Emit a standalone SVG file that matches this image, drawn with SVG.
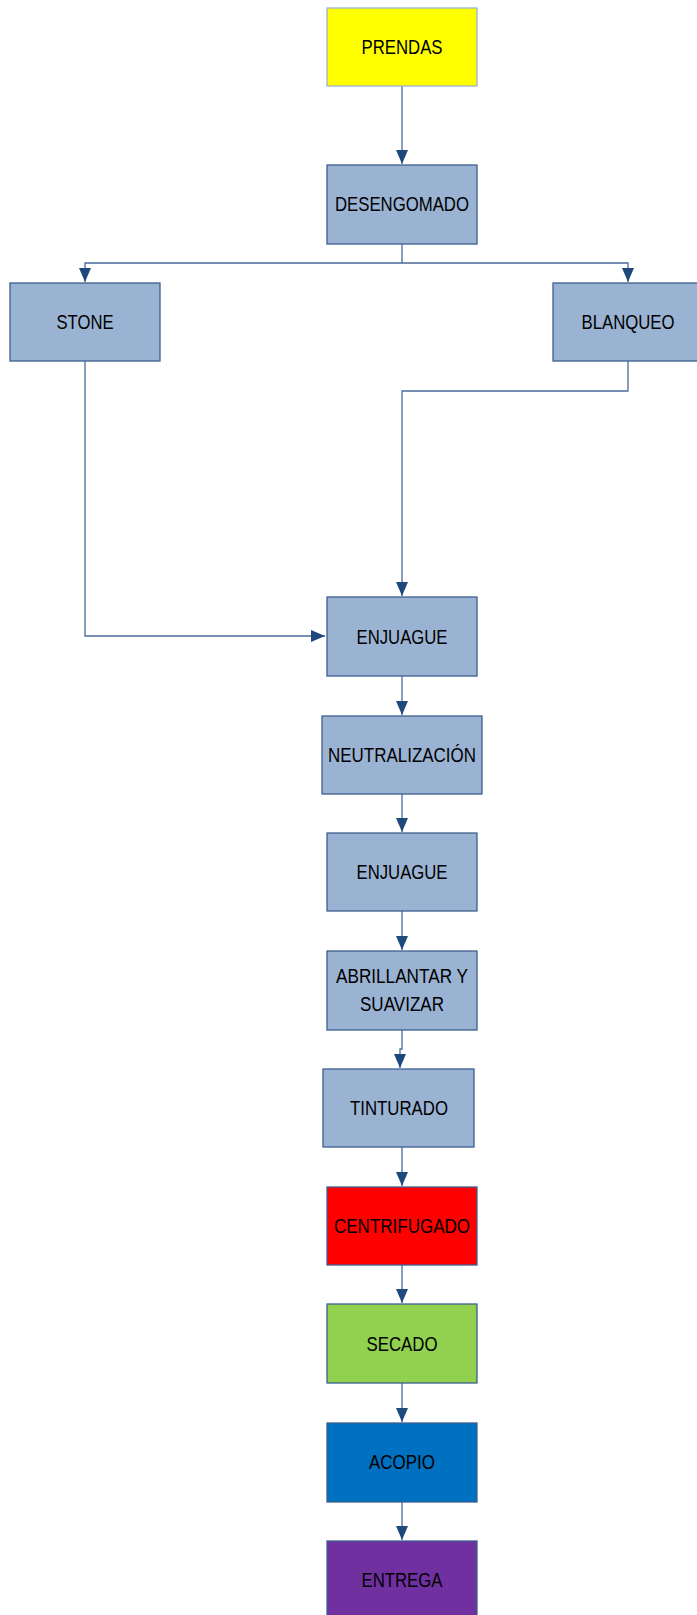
<svg xmlns="http://www.w3.org/2000/svg" width="697" height="1615" viewBox="0 0 697 1615">
<defs>
<marker id="arr" markerUnits="userSpaceOnUse" markerWidth="15" markerHeight="13" refX="14" refY="6" orient="auto">
<path d="M0,0 L14,6 L0,12 z" fill="#1F497D"/>
</marker>
<style>
.box{stroke:#3C5F8E;stroke-width:1.3}
.gb{fill:#9BB3D3}
.t{font-family:"Liberation Sans",Arial,sans-serif;font-size:21px;fill:#000;text-anchor:middle}
.c{fill:none;stroke:#4A6C9B;stroke-width:1.3}
</style>
</defs>
<rect width="697" height="1615" fill="#fff"/>
<g id="connectors">
<path class="c" d="M402,86 V164" marker-end="url(#arr)"/>
<path class="c" d="M402,244 V263 H85 V282" marker-end="url(#arr)"/>
<path class="c" d="M402,263 H628 V282" marker-end="url(#arr)"/>
<path class="c" d="M85,361 V636 H325" marker-end="url(#arr)"/>
<path class="c" d="M628,361 V391 H402 V596" marker-end="url(#arr)"/>
<path class="c" d="M402,676 V715" marker-end="url(#arr)"/>
<path class="c" d="M402,794 V832" marker-end="url(#arr)"/>
<path class="c" d="M402,911 V950" marker-end="url(#arr)"/>
<path class="c" d="M402,1030 V1049 H400 V1068" marker-end="url(#arr)"/>
<path class="c" d="M402,1147 V1186" marker-end="url(#arr)"/>
<path class="c" d="M402,1265 V1303" marker-end="url(#arr)"/>
<path class="c" d="M402,1383 V1422" marker-end="url(#arr)"/>
<path class="c" d="M402,1502 V1540" marker-end="url(#arr)"/>
</g>
<g id="prendas"><rect x="327" y="8" width="150" height="78" fill="#FFFF00" stroke="#9BB3D3" stroke-width="1.3"/><text class="t" x="402" y="54" textLength="81" lengthAdjust="spacingAndGlyphs">PRENDAS</text></g>
<g id="desengomado"><rect class="box gb" x="327" y="165" width="150" height="79"/><text class="t" x="402" y="211" textLength="134" lengthAdjust="spacingAndGlyphs">DESENGOMADO</text></g>
<g id="stone"><rect class="box gb" x="10" y="283" width="150" height="78"/><text class="t" x="85" y="329" textLength="57" lengthAdjust="spacingAndGlyphs">STONE</text></g>
<g id="blanqueo"><rect class="box gb" x="553" y="283" width="150" height="78"/><text class="t" x="628" y="329" textLength="93" lengthAdjust="spacingAndGlyphs">BLANQUEO</text></g>
<g id="enjuague1"><rect class="box gb" x="327" y="597" width="150" height="79"/><text class="t" x="402" y="644" textLength="91" lengthAdjust="spacingAndGlyphs">ENJUAGUE</text></g>
<g id="neutralizacion"><rect class="box gb" x="322" y="716" width="160" height="78"/><text class="t" x="402" y="762" textLength="148" lengthAdjust="spacingAndGlyphs">NEUTRALIZACIÓN</text></g>
<g id="enjuague2"><rect class="box gb" x="327" y="833" width="150" height="78"/><text class="t" x="402" y="879" textLength="91" lengthAdjust="spacingAndGlyphs">ENJUAGUE</text></g>
<g id="abrillantar"><rect class="box gb" x="327" y="951" width="150" height="79"/><text class="t" x="402" y="983" textLength="132" lengthAdjust="spacingAndGlyphs">ABRILLANTAR Y</text><text class="t" x="402" y="1011" textLength="84" lengthAdjust="spacingAndGlyphs">SUAVIZAR</text></g>
<g id="tinturado"><rect class="box gb" x="323" y="1069" width="151" height="78"/><text class="t" x="399" y="1115" textLength="98" lengthAdjust="spacingAndGlyphs">TINTURADO</text></g>
<g id="centrifugado"><rect class="box" x="327" y="1187" width="150" height="78" fill="#FF0000"/><text class="t" x="402" y="1233" textLength="136" lengthAdjust="spacingAndGlyphs">CENTRIFUGADO</text></g>
<g id="secado"><rect class="box" x="327" y="1304" width="150" height="79" fill="#92D050"/><text class="t" x="402" y="1351" textLength="71" lengthAdjust="spacingAndGlyphs">SECADO</text></g>
<g id="acopio"><rect class="box" x="327" y="1423" width="150" height="79" fill="#0070C0"/><text class="t" x="402" y="1469" textLength="66" lengthAdjust="spacingAndGlyphs">ACOPIO</text></g>
<g id="entrega"><rect class="box" x="327" y="1541" width="150" height="80" fill="#7030A0"/><text class="t" x="402" y="1587" textLength="81" lengthAdjust="spacingAndGlyphs">ENTREGA</text></g>
</svg>
